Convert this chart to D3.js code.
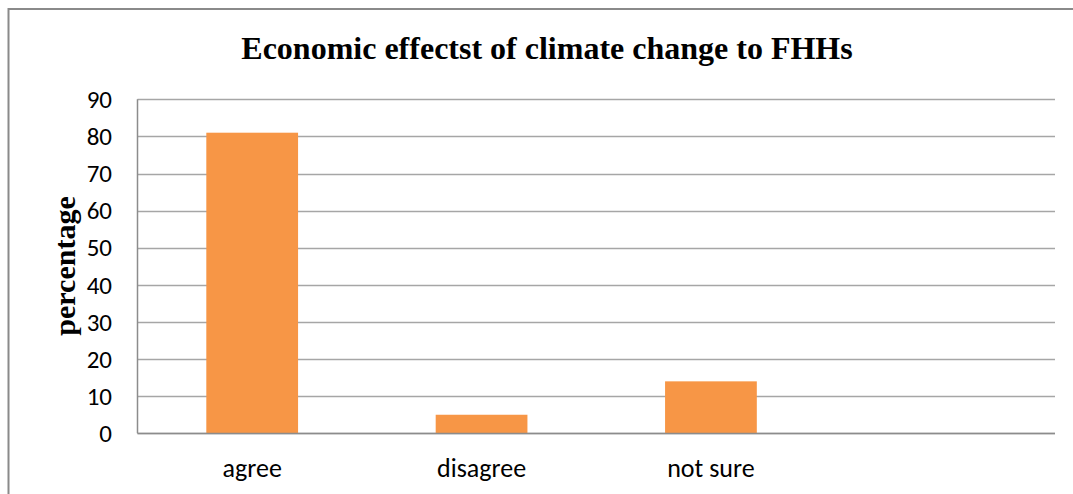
<!DOCTYPE html>
<html><head><meta charset="utf-8">
<script src="https://cdn.jsdelivr.net/npm/d3@7/dist/d3.min.js"></script>
<style>body{margin:0;background:#fff;} svg{display:block;}</style>
</head><body>
<svg id="c" width="1073" height="494"></svg>
<script>
const categories = ["agree", "disagree", "not sure", ""];
const values = [81, 5, 14, null];
const yTicks = [0, 10, 20, 30, 40, 50, 60, 70, 80, 90];
const title = "Economic effectst of climate change to FHHs";
const yLabel = "percentage";

const svg = d3.select("#c");
const W = 1073, H = 494;
const m = {left: 137.5, right: 1055, top: 99.3, bottom: 433.3};

// outer border
svg.append("rect").attr("x", 8.5).attr("y", 9).attr("width", W + 10).attr("height", H + 10)
  .attr("fill", "none").attr("stroke", "#8a8a8a").attr("stroke-width", 2);

const x = d3.scaleBand().domain(categories).range([m.left, m.right]).paddingInner(0.6).paddingOuter(0.3);
const y = d3.scaleLinear().domain([0, 90]).range([m.bottom, m.top]);

// gridlines
svg.append("g").selectAll("line").data(yTicks).join("line")
  .attr("x1", m.left).attr("x2", m.right)
  .attr("y1", d => Math.round(y(d)) + 0.5).attr("y2", d => Math.round(y(d)) + 0.5)
  .attr("stroke", "#a6a6a6").attr("stroke-width", 1.3);

// bars
const data = categories.map((c, i) => ({c, v: values[i]})).filter(d => d.v != null);
svg.append("g").selectAll("rect").data(data).join("rect")
  .attr("x", d => x(d.c)).attr("width", x.bandwidth())
  .attr("y", d => y(d.v)).attr("height", d => y(0) - y(d.v))
  .attr("fill", "#F79646");

// axes lines
svg.append("line").attr("x1", m.left).attr("x2", m.left).attr("y1", m.top).attr("y2", m.bottom)
  .attr("stroke", "#8c8c8c").attr("stroke-width", 1.5);
svg.append("line").attr("x1", m.left).attr("x2", m.right).attr("y1", Math.round(y(0)) + 0.5).attr("y2", Math.round(y(0)) + 0.5)
  .attr("stroke", "#8c8c8c").attr("stroke-width", 1.5);

// y tick labels
svg.append("g").selectAll("text").data(yTicks).join("text")
  .attr("x", 112).attr("y", d => y(d)).attr("dy", "0.35em")
  .attr("text-anchor", "end")
  .attr("font-family", "Carlito, 'Open Sans', 'Noto Sans', sans-serif").attr("font-size", 25)
  .attr("fill", "#000").text(d => d);

// x labels
svg.append("g").selectAll("text").data(categories.filter(c => c)).join("text")
  .attr("x", d => x(d) + x.bandwidth() / 2).attr("y", 477)
  .attr("text-anchor", "middle")
  .attr("font-family", "Carlito, 'Open Sans', 'Noto Sans', sans-serif").attr("font-size", 26)
  .attr("fill", "#000").text(d => d);

// title
svg.append("text").attr("x", 547).attr("y", 59).attr("text-anchor", "middle")
  .attr("font-family", "'Liberation Serif', 'Times New Roman', serif").attr("font-weight", "bold")
  .attr("font-size", 32).attr("fill", "#000").text(title);

// y label
svg.append("text").attr("transform", "translate(75,266) rotate(-90)").attr("text-anchor", "middle")
  .attr("font-family", "'Liberation Serif', 'Times New Roman', serif").attr("font-weight", "bold")
  .attr("font-size", 30).attr("fill", "#000").text(yLabel);
</script>
</body></html>
